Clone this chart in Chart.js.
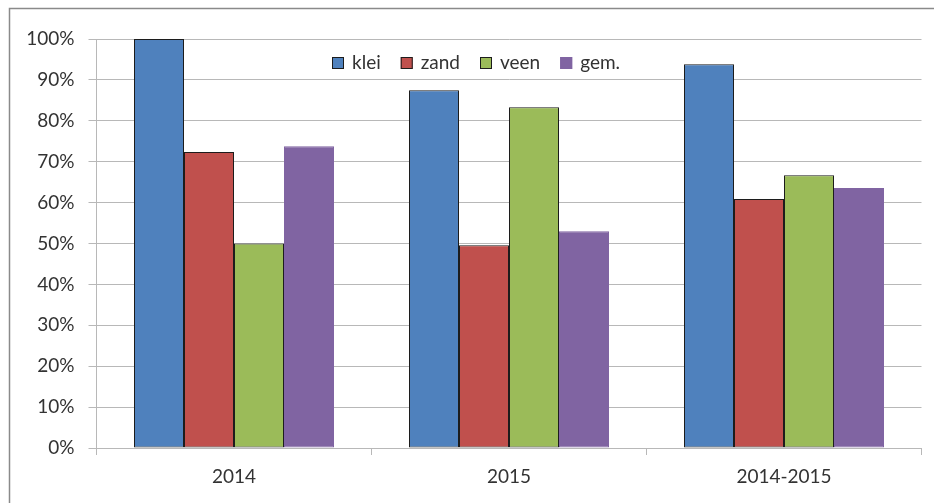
<!DOCTYPE html>
<html>
<head>
<meta charset="utf-8">
<title>klei zand veen gem.</title>
<script src="https://cdn.jsdelivr.net/npm/chart.js@4/dist/chart.umd.min.js"></script>
<style>
    html, body { margin: 0; padding: 0; background: #fff; }
    #wrap { width: 934px; height: 503px; }
</style>
</head>
<body>
<div id="wrap"><canvas id="chart" width="934" height="503"></canvas></div>
<script>
// data (percent)
const categories = ['2014', '2015', '2014-2015'];
const seriesNames = ['klei', 'zand', 'veen', 'gem.'];
const klei = [100, 87.5, 93.8];
const zand = [72.4, 49.6, 60.9];
const veen = [50, 83.3, 66.7];
const gem = [73.8, 53, 63.6];
const yTickLabels = ['0%', '10%', '20%', '30%', '40%', '50%', '60%', '70%', '80%', '90%', '100%'];

const fills = ['#4F81BD', '#C0504D', '#9BBB59', '#8064A2'];
const edges = ['#1c1c1c', '#1c1c1c', '#1c1c1c', '#8064A2'];
const gridColor = '#b8b8b8';
const textColor = '#333333';

Chart.defaults.font.family = 'Lato, "Open Sans", sans-serif';
Chart.defaults.font.size = 19;
Chart.defaults.color = textColor;

// outer frame of the chart object (it runs off the right and bottom of the picture)
const framePlugin = {
    id: 'frame',
    beforeDraw(chart) {
        const ctx = chart.ctx;
        ctx.save();
        ctx.strokeStyle = '#8a8a8a';
        ctx.lineWidth = 1.5;
        ctx.strokeRect(9.5, 8.5, chart.width + 50, chart.height + 50);
        ctx.restore();
    }
};

// legend drawn inside the plot, like the Excel original
const innerLegend = {
    id: 'innerLegend',
    afterDraw(chart) {
        const ctx = chart.ctx;
        const area = chart.chartArea;
        const box = 12;
        const y = Math.round(area.top + 24);
        let x = Math.round(area.left + 235);
        ctx.save();
        ctx.font = '19px Lato, "Open Sans", sans-serif';
        ctx.textBaseline = 'middle';
        ctx.textAlign = 'left';
        chart.data.datasets.forEach((ds) => {
            ctx.fillStyle = ds.backgroundColor;
            ctx.fillRect(x, y - box / 2, box, box);
            ctx.strokeStyle = ds.borderColor;
            ctx.lineWidth = 1;
            ctx.strokeRect(x + 0.5, y - box / 2 + 0.5, box - 1, box - 1);
            ctx.fillStyle = textColor;
            ctx.fillText(ds.label, x + box + 8, y);
            x += box + 8 + ctx.measureText(ds.label).width + 20;
        });
        ctx.restore();
    }
};

const seriesValues = [klei, zand, veen, gem];

new Chart(document.getElementById('chart').getContext('2d'), {
    type: 'bar',
    data: {
        labels: categories,
        datasets: seriesNames.map((name, i) => ({
            label: name,
            data: seriesValues[i],
            backgroundColor: fills[i],
            borderColor: edges[i],
            borderWidth: 1,
            borderSkipped: false,
            categoryPercentage: 200 / 275,
            barPercentage: 1
        }))
    },
    options: {
        responsive: false,
        animation: false,
        devicePixelRatio: 1,
        layout: { padding: { left: 9.5, top: 39, right: 12.5, bottom: 0 } },
        plugins: {
            legend: { display: false },
            tooltip: { enabled: false }
        },
        scales: {
            x: {
                afterFit(scale) { scale.height = 55; },
                grid: {
                    offset: true,
                    drawOnChartArea: false,
                    drawTicks: true,
                    tickLength: 7,
                    tickColor: gridColor
                },
                border: { color: gridColor, width: 1 },
                ticks: { padding: 10, color: textColor }
            },
            y: {
                min: 0,
                max: 100,
                afterFit(scale) { scale.width = 87; },
                grid: {
                    color: gridColor,
                    tickLength: 8,
                    tickColor: gridColor
                },
                border: { color: gridColor, width: 1 },
                ticks: {
                    stepSize: 10,
                    padding: 14,
                    color: textColor,
                    callback: (value, index) => yTickLabels[index]
                }
            }
        }
    },
    plugins: [framePlugin, innerLegend]
});
</script>
</body>
</html>
